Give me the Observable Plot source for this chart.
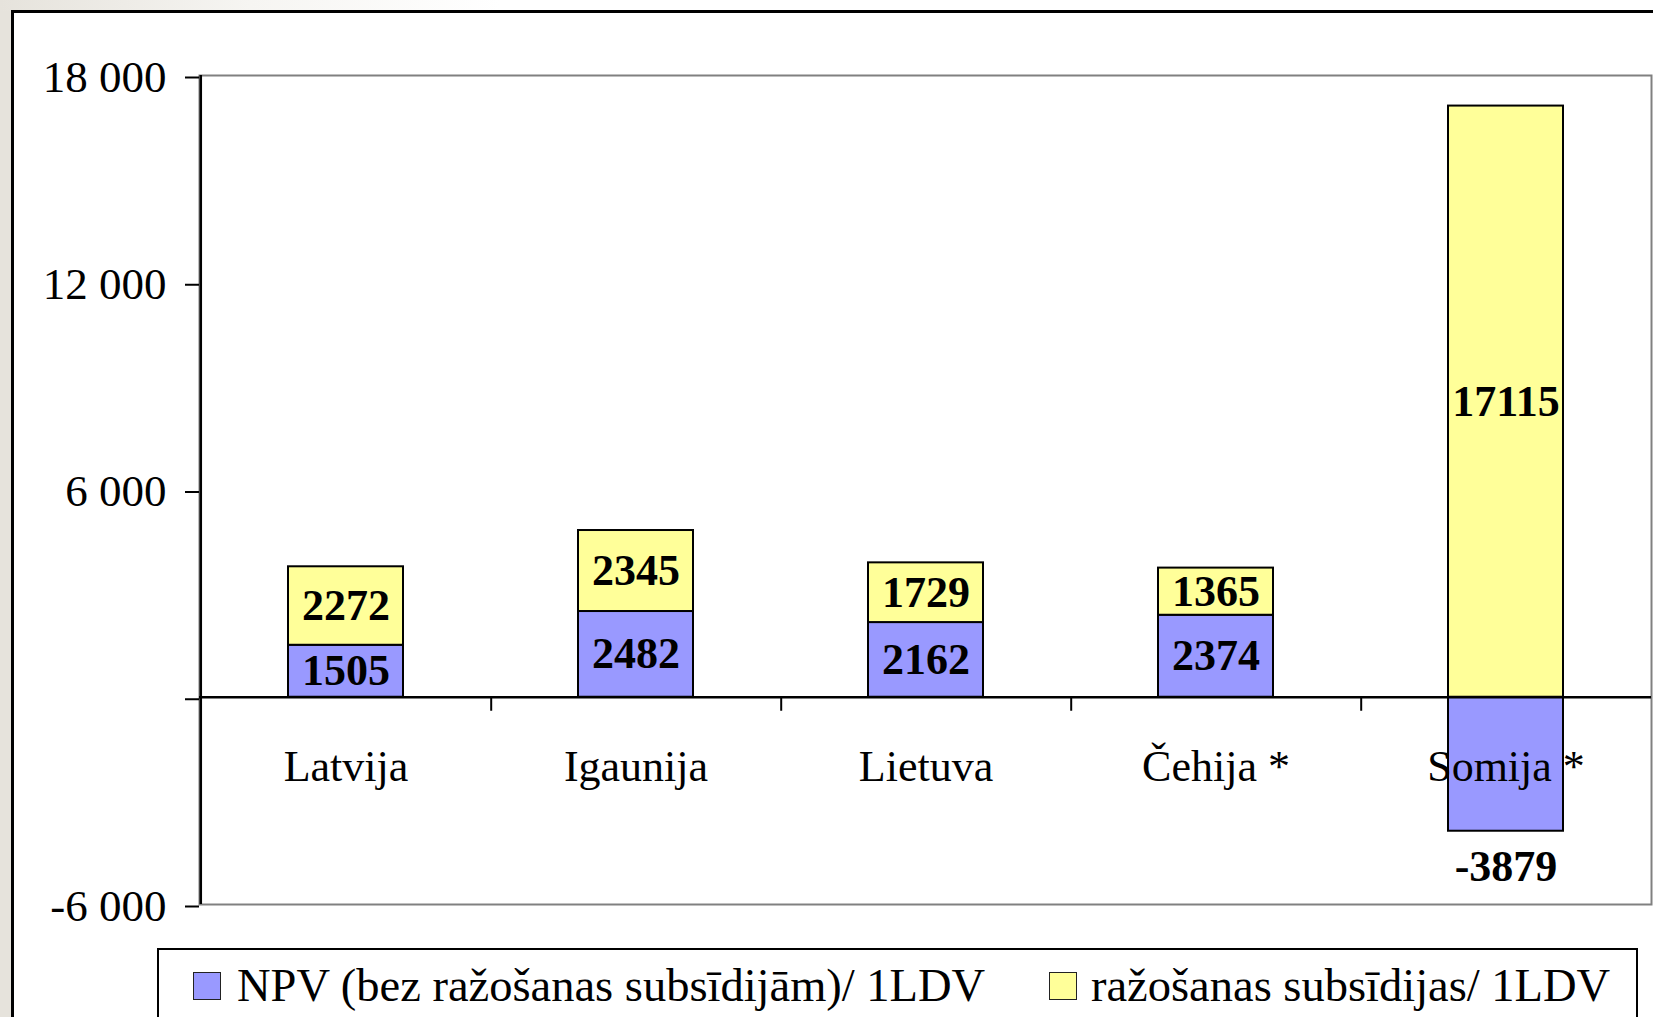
<!DOCTYPE html>
<html><head><meta charset="utf-8">
<script src="https://cdn.jsdelivr.net/npm/d3@7"></script>
<script src="https://cdn.jsdelivr.net/npm/@observablehq/plot@0.6"></script>
<style>
html,body{margin:0;padding:0;}
body{width:1653px;height:1017px;overflow:hidden;position:relative;background:#fff;font-family:"Liberation Serif","Times New Roman",serif;}
#strip{position:absolute;left:0;top:0;width:12px;height:1017px;background:#e6e3dc;}
#topstrip{position:absolute;left:0;top:0;width:1653px;height:11px;background:linear-gradient(to right,#e6e3dc 0,#f6f5f2 250px,#fff 500px);}
#frame{position:absolute;left:11px;top:10px;width:2000px;height:2000px;border-left:3px solid #000;border-top:3px solid #000;background:#fff;}
#chart{position:absolute;left:0;top:0;}
#legend{position:absolute;left:157px;top:948px;width:1477px;height:200px;border:2px solid #000;background:#fff;}
.sw{position:absolute;top:22px;width:26px;height:26px;border:1.5px solid #222;}
.lt{position:absolute;top:13px;font-size:46.5px;line-height:46.5px;white-space:nowrap;color:#000;}
</style></head><body>
<div id="strip"></div>
<div id="topstrip"></div>
<div id="frame"></div>
<div id="chart"></div>
<div id="legend"></div>
<script>
const countries = ["Latvija", "Igaunija", "Lietuva", "Čehija *", "Somija *"];
const npv = [1505, 2482, 2162, 2374, -3879];
const subsidies = [2272, 2345, 1729, 1365, 17115];
const seriesNames = ["NPV (bez ražošanas subsīdijām)/ 1LDV", "ražošanas subsīdijas/ 1LDV"];
const seriesColors = ["#9999ff", "#ffff99"];
const yTicks = [-6000, 0, 6000, 12000, 18000];
const yTickLabels = ["-6 000", "", "6 000", "12 000", "18 000"];

const data = [];
countries.forEach((c, i) => {
  data.push({country: c, series: seriesNames[0], value: npv[i]});
  data.push({country: c, series: seriesNames[1], value: subsidies[i]});
});

const W = 1653, H = 947;
const mL = 199, mR = 2, mT = 75, mB = 43;
const step = (W - mL - mR) / countries.length;
const font = "Liberation Serif, Times New Roman, serif";

const chart = Plot.plot({
  width: W,
  height: H,
  marginLeft: mL,
  marginRight: mR,
  marginTop: mT,
  marginBottom: mB,
  style: {background: "transparent", fontFamily: font, fontSize: "44px", color: "#000", overflow: "visible"},
  x: {type: "band", domain: countries, paddingInner: 0.605, paddingOuter: 0.3025, axis: null},
  y: {domain: [-6000, 18000], axis: null},
  color: {domain: seriesNames, range: seriesColors},
  marks: [
    Plot.frame({stroke: "#808080", strokeWidth: 2}),
    Plot.barY(data, Plot.stackY({x: "country", y: "value", z: "series", fill: "series", stroke: "#000", strokeWidth: 2})),
    Plot.ruleY([0], {stroke: "#000", strokeWidth: 2.5}),
    Plot.ruleX([countries[0]], {x: d => d, dx: -step / 2, stroke: "#000", strokeWidth: 2.5}),
    Plot.ruleX(countries.slice(0, countries.length - 1), {x: d => d, y1: d => 0, y2: d => 0, dx: step / 2, insetBottom: -14, stroke: "#000", strokeWidth: 2}),
    Plot.axisY({ticks: yTicks, label: null, tickFormat: d => yTickLabels[yTicks.indexOf(d)], tickSize: 14, tickPadding: 19, stroke: "#000", strokeWidth: 2, fontSize: 45, fontFamily: font, fill: "#000", dy: 2}),
    Plot.text(data.filter(d => d.value > 0), Plot.stackY({x: "country", y: "value", z: "series", text: d => String(d.value), fontSize: 44, fontWeight: "bold", fontFamily: font, fill: "#000"})),
    Plot.text(data.filter(d => d.value < 0), {x: "country", y: "value", text: d => String(d.value), dy: 36, fontSize: 44, fontWeight: "bold", fontFamily: font, fill: "#000"}),
    Plot.text(countries, {x: d => d, y: d => 0, text: d => d, dy: 70, fontSize: 44, fontFamily: font, fill: "#000"})
  ]
});
document.getElementById("chart").appendChild(chart);

const legend = document.getElementById("legend");
const swLeft = [34, 890];
const txtLeft = [78, 932];
seriesNames.forEach((s, i) => {
  const sw = document.createElement("div");
  sw.className = "sw";
  sw.style.left = swLeft[i] + "px";
  sw.style.background = seriesColors[i];
  legend.appendChild(sw);
  const t = document.createElement("span");
  t.className = "lt";
  t.style.left = txtLeft[i] + "px";
  t.textContent = s;
  legend.appendChild(t);
});
</script>
</body></html>
